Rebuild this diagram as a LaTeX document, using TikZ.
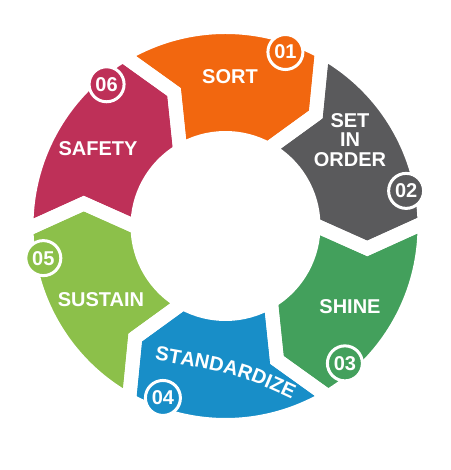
\documentclass[tikz,border=0pt]{standalone}
\usepackage{fontspec}
\setmainfont{Liberation Sans}
\usetikzlibrary{decorations.text}
\definecolor{cOrange}{RGB}{242,103,15}
\definecolor{cGrey}{RGB}{90,90,92}
\definecolor{cGreen}{RGB}{67,160,92}
\definecolor{cBlue}{RGB}{24,142,200}
\definecolor{cLime}{RGB}{140,192,74}
\definecolor{cMag}{RGB}{190,48,88}
\tikzset{
  lbl/.style={text=white, font=\bfseries\fontsize{20}{19.5}\selectfont, align=center, inner sep=0pt},
  badge/.style={circle, draw=white, line width=3pt, minimum size=35pt, inner sep=0pt,
    text=white, font=\bfseries\fontsize{20}{24}\selectfont},
  gapline/.style={draw=white, line width=14pt, line join=miter, miter limit=3}
}
\begin{document}
\begin{tikzpicture}[x=1pt,y=1pt]
\fill[white] (0,0) rectangle (450,470);
\useasboundingbox (0,0) rectangle (450,470);
\begin{scope}[shift={(225.5,244)}]
  % filled ring segments (tail angle / colour)
  \foreach \a/\col in {111/cOrange, 51/cGrey, -9/cGreen, -69/cBlue, -129/cLime, -189/cMag}{
    \pgfmathsetmacro\sgB{\a-60}
    \pgfmathsetmacro\sgAd{\a+10}
    \pgfmathsetmacro\sgBd{\a-50}
    \fill[\col] (\sgAd:199pt) arc[start angle=\sgAd, end angle=\sgBd, radius=199pt]
      -- (\sgB:143.5pt) -- (\sgBd:88pt)
      arc[start angle=\sgBd, end angle=\sgAd, radius=88pt]
      -- (\a:143.5pt) -- cycle;
  }
  % white gaps
  \foreach \a in {111, 51, -9, -69, -129, -189}{
    \pgfmathsetmacro\sgB{\a-60}
    \pgfmathsetmacro\sgAd{\a+10}
    \pgfmathsetmacro\sgBd{\a-50}
    \path[gapline] (\sgAd:199pt) arc[start angle=\sgAd, end angle=\sgBd, radius=199pt]
      -- (\sgB:143.5pt) -- (\sgBd:88pt)
      arc[start angle=\sgBd, end angle=\sgAd, radius=88pt]
      -- (\a:143.5pt) -- cycle;
  }
  % number badges
  \node[badge, fill=cOrange] (b1) at (71:184pt) {01};
  \node[badge, fill=cGrey]   (b2) at (11:184pt) {02};
  \node[badge, fill=cGreen]  (b3) at (-49:182pt) {03};
  \node[badge, fill=cBlue]   (b4) at (-110:183pt) {04};
  \node[badge, fill=cLime]   (b5) at (-170:185pt) {05};
  \node[badge, fill=cMag]    (b6) at (130:185pt) {06};
\end{scope}
% labels
\node[lbl] (sort)    at (230,393) {SORT};
\node[lbl] (order)   at (350,330) {SET\\IN\\ORDER};
\node[lbl] (shine)   at (350,163) {SHINE};
\node[lbl] (sustain) at (101,170) {SUSTAIN};
\node[lbl] (safety)  at (98,321)  {SAFETY};
\path[decorate, decoration={text along path, text align=center,
  text={|\color{white}\bfseries\fontsize{20}{24}\selectfont|STANDARDIZE}}]
  (150,111) .. controls (240,95) .. (296,69);
\end{tikzpicture}
\end{document}
